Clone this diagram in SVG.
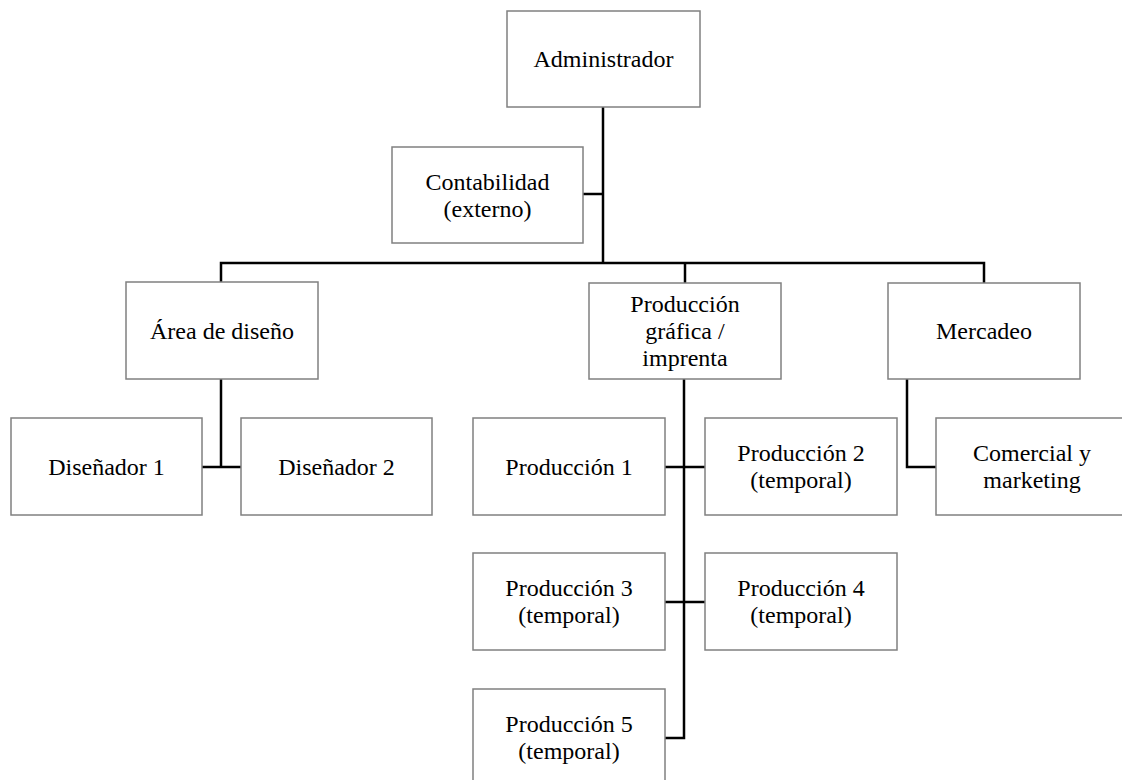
<svg xmlns="http://www.w3.org/2000/svg" width="1122" height="780" viewBox="0 0 1122 780">
<style>
.box{fill:#fff;stroke:#808080;stroke-width:1.5}
.t{font-family:"Liberation Serif","Times New Roman",serif;font-size:24px;fill:#000;text-anchor:middle}
.c{fill:none;stroke:#000;stroke-width:2.5}
</style>
<rect width="1122" height="780" fill="#fff"/>
<g id="connectors">
<path class="c" d="M603,107 V263"/>
<path class="c" d="M583,194 H603"/>
<path class="c" d="M221,282 V263 H984 V283"/>
<path class="c" d="M685,263 V283"/>
<path class="c" d="M221,379 V467"/>
<path class="c" d="M202,467 H241"/>
<path class="c" d="M684,379 V738 H665"/>
<path class="c" d="M665,467 H705"/>
<path class="c" d="M665,602 H705"/>
<path class="c" d="M907,379 V467 H936"/>
</g>
<g id="admin"><rect class="box" x="507" y="11" width="193" height="96"/><text class="t" x="603.5" y="67">Administrador</text></g>
<g id="contabilidad"><rect class="box" x="392" y="147" width="191" height="96"/><text class="t" x="487.5" y="189.5">Contabilidad</text><text class="t" x="487.5" y="216.5">(externo)</text></g>
<g id="area-diseno"><rect class="box" x="126" y="282" width="192" height="97"/><text class="t" x="222" y="338.5">Área de diseño</text></g>
<g id="produccion-grafica"><rect class="box" x="589" y="283" width="192" height="96"/><text class="t" x="685" y="312">Producción</text><text class="t" x="685" y="339">gráfica /</text><text class="t" x="685" y="366">imprenta</text></g>
<g id="mercadeo"><rect class="box" x="888" y="283" width="192" height="96"/><text class="t" x="984" y="339">Mercadeo</text></g>
<g id="disenador1"><rect class="box" x="11" y="418" width="191" height="97"/><text class="t" x="106.5" y="474.5">Diseñador 1</text></g>
<g id="disenador2"><rect class="box" x="241" y="418" width="191" height="97"/><text class="t" x="336.5" y="474.5">Diseñador 2</text></g>
<g id="produccion1"><rect class="box" x="473" y="418" width="192" height="97"/><text class="t" x="569" y="474.5">Producción 1</text></g>
<g id="produccion2"><rect class="box" x="705" y="418" width="192" height="97"/><text class="t" x="801" y="461">Producción 2</text><text class="t" x="801" y="488">(temporal)</text></g>
<g id="comercial"><rect class="box" x="936" y="418" width="192" height="97"/><text class="t" x="1032" y="461">Comercial y</text><text class="t" x="1032" y="488">marketing</text></g>
<g id="produccion3"><rect class="box" x="473" y="553" width="192" height="97"/><text class="t" x="569" y="596">Producción 3</text><text class="t" x="569" y="623">(temporal)</text></g>
<g id="produccion4"><rect class="box" x="705" y="553" width="192" height="97"/><text class="t" x="801" y="596">Producción 4</text><text class="t" x="801" y="623">(temporal)</text></g>
<g id="produccion5"><rect class="box" x="473" y="689" width="192" height="97"/><text class="t" x="569" y="732">Producción 5</text><text class="t" x="569" y="759">(temporal)</text></g>
</svg>
